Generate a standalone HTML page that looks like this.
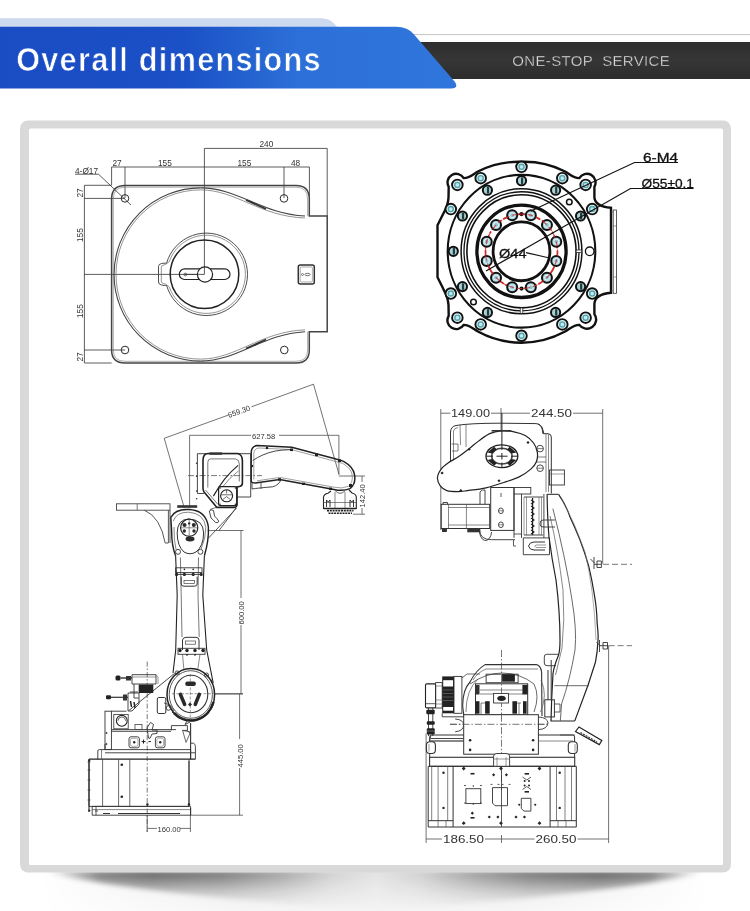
<!DOCTYPE html>
<html><head><meta charset="utf-8"><title>Overall dimensions</title>
<style>
html,body{margin:0;padding:0;background:#fff;}
body{width:750px;height:911px;position:relative;overflow:hidden;font-family:"Liberation Sans",sans-serif;}
svg{position:absolute;left:0;top:0;display:block;will-change:transform;}
</style></head>
<body>
<svg width="750" height="911" viewBox="0 0 750 911">
<defs>
<linearGradient id="gBlue" x1="0" y1="0" x2="1" y2="0" gradientUnits="objectBoundingBox">
<stop offset="0" stop-color="#1a4cc4"/>
<stop offset="0.40" stop-color="#1b50c6"/>
<stop offset="0.52" stop-color="#2260cd"/>
<stop offset="0.65" stop-color="#2d6fd8"/>
<stop offset="1" stop-color="#2f76dc"/>
</linearGradient>
<linearGradient id="gBlueU" x1="-18" y1="0" x2="492" y2="0" gradientUnits="userSpaceOnUse">
<stop offset="0" stop-color="#1a4cc4"/>
<stop offset="0.40" stop-color="#1b50c6"/>
<stop offset="0.52" stop-color="#2260cd"/>
<stop offset="0.65" stop-color="#2d6fd8"/>
<stop offset="1" stop-color="#2f76dc"/>
</linearGradient>
<linearGradient id="gDark" x1="0" y1="0" x2="0" y2="1">
<stop offset="0" stop-color="#2e2e2e"/>
<stop offset="0.5" stop-color="#363636"/>
<stop offset="1" stop-color="#2c2c2c"/>
</linearGradient>
<radialGradient id="gShL" cx="0.5" cy="0.5" r="0.5">
<stop offset="0" stop-color="#000" stop-opacity="0.6"/>
<stop offset="0.6" stop-color="#000" stop-opacity="0.25"/>
<stop offset="1" stop-color="#000" stop-opacity="0"/>
</radialGradient>
<linearGradient id="gShMid" x1="0" y1="0" x2="0" y2="1">
<stop offset="0" stop-color="#000" stop-opacity="0.13"/>
<stop offset="1" stop-color="#000" stop-opacity="0.05"/>
</linearGradient>
<filter id="fBlur" x="-5%" y="-50%" width="110%" height="200%"><feGaussianBlur stdDeviation="2.6"/></filter>
<linearGradient id="gShLH" x1="36" y1="0" x2="375" y2="0" gradientUnits="userSpaceOnUse">
<stop offset="0.03" stop-color="#000" stop-opacity="0"/>
<stop offset="0.08" stop-color="#000" stop-opacity="0.15"/>
<stop offset="0.19" stop-color="#000" stop-opacity="0.52"/>
<stop offset="0.34" stop-color="#000" stop-opacity="0.6"/>
<stop offset="0.54" stop-color="#000" stop-opacity="0.5"/>
<stop offset="0.72" stop-color="#000" stop-opacity="0.3"/>
<stop offset="0.87" stop-color="#000" stop-opacity="0.09"/>
<stop offset="1" stop-color="#000" stop-opacity="0.0"/>
</linearGradient>
<linearGradient id="gShRH" x1="714" y1="0" x2="375" y2="0" gradientUnits="userSpaceOnUse">
<stop offset="0.03" stop-color="#000" stop-opacity="0"/>
<stop offset="0.08" stop-color="#000" stop-opacity="0.15"/>
<stop offset="0.19" stop-color="#000" stop-opacity="0.52"/>
<stop offset="0.34" stop-color="#000" stop-opacity="0.6"/>
<stop offset="0.54" stop-color="#000" stop-opacity="0.5"/>
<stop offset="0.72" stop-color="#000" stop-opacity="0.3"/>
<stop offset="0.87" stop-color="#000" stop-opacity="0.09"/>
<stop offset="1" stop-color="#000" stop-opacity="0.0"/>
</linearGradient>
<linearGradient id="gShH" x1="40" y1="0" x2="710" y2="0" gradientUnits="userSpaceOnUse">
<stop offset="0" stop-color="#fff" stop-opacity="0"/>
<stop offset="0.3" stop-color="#fff" stop-opacity="0.7"/>
<stop offset="0.5" stop-color="#fff" stop-opacity="0.85"/>
<stop offset="0.7" stop-color="#fff" stop-opacity="0.7"/>
<stop offset="1" stop-color="#fff" stop-opacity="0"/>
</linearGradient>
<mask id="mShH" maskUnits="userSpaceOnUse" x="0" y="860" width="750" height="51"><rect x="0" y="860" width="750" height="51" fill="url(#gShH)"/></mask>
<linearGradient id="gShV" x1="0" y1="871" x2="0" y2="906" gradientUnits="userSpaceOnUse">
<stop offset="0" stop-color="#fff" stop-opacity="1"/>
<stop offset="0.25" stop-color="#fff" stop-opacity="0.75"/>
<stop offset="0.6" stop-color="#fff" stop-opacity="0.35"/>
<stop offset="1" stop-color="#fff" stop-opacity="0.08"/>
</linearGradient>
<mask id="mShV" maskUnits="userSpaceOnUse" x="0" y="860" width="750" height="51"><rect x="0" y="860" width="750" height="51" fill="url(#gShV)"/></mask>
</defs>

<!-- HEADER -->
<path d="M0,18.2 H322 Q329,18.5 333.5,23 L337.5,27.2 H0 Z" fill="#ccd9ef"/>
<rect x="410" y="34" width="340" height="1.1" fill="#c8c8c8"/>
<rect x="410" y="42" width="340" height="37" fill="url(#gDark)"/>
<path d="M0,26.8 H396 Q408,26.8 414,34.5 L455,82 Q459,88.5 451,88.5 H0 Z" fill="url(#gBlue)"/>
<text transform="translate(16.2,71) scale(0.9,1)" font-family="Liberation Sans" font-weight="bold" font-size="34" fill="#fff" stroke="url(#gBlueU)" stroke-width="0.7" letter-spacing="1.45">Overall dimensions</text>
<text x="512.3" y="65.6" font-family="Liberation Sans" font-size="15" fill="#e2e2e2" stroke="#333" stroke-width="0.35" textLength="157.5" lengthAdjust="spacing">ONE-STOP&#160; SERVICE</text>

<!-- SHADOW -->
<rect x="40" y="871" width="670" height="40" fill="url(#gShMid)" mask="url(#mShH)"/>
<g filter="url(#fBlur)">
<path d="M40,871 C100,886 200,898 375,910 V871 Z" fill="url(#gShLH)" mask="url(#mShV)"/>
<path d="M710,871 C650,886 550,898 375,910 V871 Z" fill="url(#gShRH)" mask="url(#mShV)"/>
</g>
<!-- CARD -->
<rect x="20" y="120.5" width="711" height="752" rx="8" fill="#d9d9d9"/>
<rect x="29" y="128.5" width="694" height="736.5" rx="1.5" fill="#fff"/>

<!-- DRAWINGS -->
<g id="draw" fill="none" stroke="#2a2a2a" stroke-width="1">
<g id="plate">
<!-- dimension / center lines -->
<g stroke="#333" stroke-width="0.8">
<path d="M111.6,167 H309.4 M111.6,167 V185 M125,167 V198 M204.4,148.4 V274.4 M284,167 V198 M309.4,167 V196"/>
<path d="M204.4,148.4 H327.2 V216"/>
<path d="M84.4,185.3 V363 M84.4,185.3 H111.6 M84.4,198.4 H125 M84.4,274.4 H204.4 M84.4,350 H125 M84.4,363 H111.6"/>
<path d="M75,174.2 H98.5 L131,205"/>
</g>
<!-- plate outline (double) -->
<g stroke="#444" stroke-width="1.5">
<path d="M125,185.5 H296 Q309.3,185.5 309.3,199 V216 H327.2 V331.7 H309.3 V350 Q309.3,363 296,363 H125 Q111.6,363 111.6,350 V199 Q111.6,185.5 125,185.5 Z"/>
</g>
<path d="M125,187.2 H296 Q307.6,187.2 307.6,199 V216" stroke="#777" stroke-width="0.6"/>
<path d="M307.6,331.7 V350 Q307.6,361.3 296,361.3 H125 Q113.3,361.3 113.3,350 V199 Q113.3,187.2 125,187.2" stroke="#777" stroke-width="0.6"/>
<!-- big circle + S-curves -->
<path d="M200.6,187.9 A86.6,86.6 0 0 0 200.6,361.1" stroke="#444" stroke-width="1.1"/>
<path d="M200.6,189.9 A84.6,84.6 0 0 0 200.6,359.1" stroke="#666" stroke-width="0.7"/>
<path d="M200.6,187.9 C238,187.9 262,214 305,216" stroke="#444" stroke-width="1.1"/>
<path d="M200.6,189.9 C236,189.9 260,216.5 305,218" stroke="#666" stroke-width="0.7"/>
<path d="M200.6,361.1 C238,361.1 262,334 305,331.7" stroke="#444" stroke-width="1.1"/>
<path d="M200.6,359.1 C236,359.1 260,331.8 305,329.8" stroke="#666" stroke-width="0.7"/>
<path d="M246,200 L266,209 M246,348.6 L266,339.6" stroke="#333" stroke-width="1.6"/>
<!-- holes -->
<circle cx="125" cy="198.4" r="3.8"/>
<circle cx="284" cy="198.4" r="3.8"/>
<circle cx="125" cy="350" r="3.8"/>
<circle cx="284.3" cy="350" r="3.8"/>
<!-- inner ring -->
<path d="M166.62,263.20 A41.2,41.2 0 1 1 166.62,285.40 Q164,285.6 161.5,285 Q158.5,284.5 158.5,282 V266.5 Q158.5,264 161.5,263.5 Q164,263 166.62,263.20 Z" stroke="#444" stroke-width="0.95"/>
<path d="M169.32,261.60 A39.1,39.1 0 1 1 169.32,287.00 Q165.5,283.5 163,283.3 Q161.3,283 161.3,281 V267.5 Q161.3,265.5 163,265.3 Q165.5,265 169.32,261.60" stroke="#666" stroke-width="0.7"/>
<circle cx="204.5" cy="274.2" r="34.3" stroke="#222" stroke-width="1.5"/>
<rect x="179.3" y="268.9" width="50.7" height="10.6" rx="5.3" stroke="#222" stroke-width="1.2"/>
<circle cx="205" cy="274.5" r="7.6" fill="#fff" stroke="#222" stroke-width="1.2"/>
<circle cx="185.3" cy="274.5" r="1.4" stroke="#333" stroke-width="0.7"/>
<path d="M204.4,266.9 V274.4 H185" stroke="#333" stroke-width="0.8"/>
<!-- connector -->
<rect x="298.3" y="265" width="16" height="19" rx="2" stroke="#333" stroke-width="1.5"/>
<rect x="300.2" y="267" width="12.2" height="15" rx="1" stroke="#777" stroke-width="0.6"/>
<ellipse cx="307.5" cy="274.5" rx="2.6" ry="1.2" stroke="#333" stroke-width="0.7"/>
<circle cx="302.5" cy="274.5" r="1" stroke="#333" stroke-width="0.6"/>
<!-- texts -->
<g fill="#333" stroke="none" font-family="Liberation Sans" font-size="8.3">
<text x="112.5" y="166">27</text>
<text x="158" y="166">155</text>
<text x="237.5" y="166">155</text>
<text x="291" y="166">48</text>
<text x="259.5" y="147">240</text>
<text x="75" y="174">4-&#216;17</text>
<text transform="translate(83.3,197.5) rotate(-90)">27</text>
<text transform="translate(83.3,242) rotate(-90)">155</text>
<text transform="translate(83.3,318) rotate(-90)">155</text>
<text transform="translate(83.3,361.5) rotate(-90)">27</text>
</g>
</g>
<g id="flange">
<path d="M521.50,161.80 A89.5,89.5 0 0 0 478.40,171.30 C473.50,173.80 469.50,178.30 463.70,178.10 A8.6,8.6 0 0 0 448.70,186.80 L448.50,197.80 Q448.00,205.30 443.50,213.30 L437.50,225.30 L437.50,277.30 L443.50,289.30 Q448.00,297.30 448.50,304.80 L448.70,315.80 A8.6,8.6 0 0 0 463.70,324.90 C469.50,324.70 473.50,329.30 478.40,331.80 A90.5,90.5 0 0 0 564.60,331.80 C569.50,329.30 573.50,324.70 579.30,324.90 A8.6,8.6 0 0 0 594.40,314.10 L594.40,303.80 Q595.00,294.30 611.00,292.80 L611.00,207.80 Q595.00,206.30 594.40,197.30 L594.40,186.80 A8.6,8.6 0 0 0 579.30,178.10 C573.50,178.30 569.50,173.80 564.60,171.30 A89.5,89.5 0 0 0 521.50,161.80" stroke="#111" stroke-width="2.4"/>
<rect x="613.2" y="210" width="3.2" height="83.3" stroke="#333" stroke-width="0.8"/>
<path d="M611,212 H613.2 M611,291 H613.2 M613.2,226 H616.4 M613.2,277 H616.4" stroke="#555" stroke-width="0.6"/>
<g transform="translate(521.50,251.30) scale(1,1.035)">
<circle r="73.8" stroke="#111" stroke-width="2.1"/>
<circle r="60.4" stroke="#111" stroke-width="1.5"/>
<circle r="57.5" stroke="#111" stroke-width="1.3"/>
<circle r="54.6" stroke="#111" stroke-width="1.6"/>
<circle r="44.6" stroke="#111" stroke-width="3.3"/>
<circle r="28.4" stroke="#111" stroke-width="2.8"/>
</g>
<rect x="520.20" y="307.91" width="2.6" height="5.5" fill="#fff" stroke="#111" stroke-width="0.7"/>
<rect x="576.10" y="250.00" width="5.5" height="2.6" fill="#fff" stroke="#111" stroke-width="0.7"/>
<circle cx="521.50" cy="166.84" r="5.30" fill="#e4f5f5" stroke="#111" stroke-width="1.9"/>
<circle cx="521.50" cy="166.84" r="2.54" fill="#c4e8ec" stroke="#4fa3ad" stroke-width="1.4"/>
<circle cx="562.30" cy="178.16" r="5.30" fill="#e4f5f5" stroke="#111" stroke-width="1.9"/>
<circle cx="562.30" cy="178.16" r="2.54" fill="#c4e8ec" stroke="#4fa3ad" stroke-width="1.4"/>
<circle cx="480.70" cy="178.16" r="5.30" fill="#e4f5f5" stroke="#111" stroke-width="1.9"/>
<circle cx="480.70" cy="178.16" r="2.54" fill="#c4e8ec" stroke="#4fa3ad" stroke-width="1.4"/>
<circle cx="592.17" cy="209.07" r="5.30" fill="#e4f5f5" stroke="#111" stroke-width="1.9"/>
<circle cx="592.17" cy="209.07" r="2.54" fill="#c4e8ec" stroke="#4fa3ad" stroke-width="1.4"/>
<circle cx="450.83" cy="209.07" r="5.30" fill="#e4f5f5" stroke="#111" stroke-width="1.9"/>
<circle cx="450.83" cy="209.07" r="2.54" fill="#c4e8ec" stroke="#4fa3ad" stroke-width="1.4"/>
<circle cx="592.17" cy="293.53" r="5.30" fill="#e4f5f5" stroke="#111" stroke-width="1.9"/>
<circle cx="592.17" cy="293.53" r="2.54" fill="#c4e8ec" stroke="#4fa3ad" stroke-width="1.4"/>
<circle cx="450.83" cy="293.53" r="5.30" fill="#e4f5f5" stroke="#111" stroke-width="1.9"/>
<circle cx="450.83" cy="293.53" r="2.54" fill="#c4e8ec" stroke="#4fa3ad" stroke-width="1.4"/>
<circle cx="562.30" cy="324.44" r="5.30" fill="#e4f5f5" stroke="#111" stroke-width="1.9"/>
<circle cx="562.30" cy="324.44" r="2.54" fill="#c4e8ec" stroke="#4fa3ad" stroke-width="1.4"/>
<circle cx="480.70" cy="324.44" r="5.30" fill="#e4f5f5" stroke="#111" stroke-width="1.9"/>
<circle cx="480.70" cy="324.44" r="2.54" fill="#c4e8ec" stroke="#4fa3ad" stroke-width="1.4"/>
<circle cx="521.50" cy="335.76" r="5.30" fill="#e4f5f5" stroke="#111" stroke-width="1.9"/>
<circle cx="521.50" cy="335.76" r="2.54" fill="#c4e8ec" stroke="#4fa3ad" stroke-width="1.4"/>
<circle cx="585.63" cy="184.92" r="5.30" fill="#e4f5f5" stroke="#111" stroke-width="1.9"/>
<circle cx="585.63" cy="184.92" r="2.54" fill="#c4e8ec" stroke="#4fa3ad" stroke-width="1.4"/>
<circle cx="457.37" cy="184.92" r="5.30" fill="#e4f5f5" stroke="#111" stroke-width="1.9"/>
<circle cx="457.37" cy="184.92" r="2.54" fill="#c4e8ec" stroke="#4fa3ad" stroke-width="1.4"/>
<circle cx="585.63" cy="317.68" r="5.30" fill="#e4f5f5" stroke="#111" stroke-width="1.9"/>
<circle cx="585.63" cy="317.68" r="2.54" fill="#c4e8ec" stroke="#4fa3ad" stroke-width="1.4"/>
<circle cx="457.37" cy="317.68" r="5.30" fill="#e4f5f5" stroke="#111" stroke-width="1.9"/>
<circle cx="457.37" cy="317.68" r="2.54" fill="#c4e8ec" stroke="#4fa3ad" stroke-width="1.4"/>
<circle cx="521.50" cy="180.71" r="4.60" fill="#a9d2d4" stroke="#111" stroke-width="2"/>
<path d="M522.10,177.49 v6.44" stroke="#223c40" stroke-width="2.2"/>
<circle cx="487.40" cy="190.17" r="4.60" fill="#a9d2d4" stroke="#111" stroke-width="2"/>
<path d="M488.00,186.95 v6.44" stroke="#223c40" stroke-width="2.2"/>
<circle cx="555.60" cy="190.17" r="4.60" fill="#a9d2d4" stroke="#111" stroke-width="2"/>
<path d="M556.20,186.95 v6.44" stroke="#223c40" stroke-width="2.2"/>
<circle cx="462.44" cy="216.01" r="4.60" fill="#a9d2d4" stroke="#111" stroke-width="2"/>
<path d="M463.04,212.79 v6.44" stroke="#223c40" stroke-width="2.2"/>
<circle cx="580.56" cy="216.01" r="4.60" fill="#a9d2d4" stroke="#111" stroke-width="2"/>
<path d="M581.16,212.79 v6.44" stroke="#223c40" stroke-width="2.2"/>
<circle cx="453.30" cy="251.30" r="4.60" fill="#a9d2d4" stroke="#111" stroke-width="2"/>
<path d="M453.90,248.08 v6.44" stroke="#223c40" stroke-width="2.2"/>
<circle cx="462.44" cy="286.59" r="4.60" fill="#a9d2d4" stroke="#111" stroke-width="2"/>
<path d="M463.04,283.37 v6.44" stroke="#223c40" stroke-width="2.2"/>
<circle cx="580.56" cy="286.59" r="4.60" fill="#a9d2d4" stroke="#111" stroke-width="2"/>
<path d="M581.16,283.37 v6.44" stroke="#223c40" stroke-width="2.2"/>
<circle cx="487.40" cy="312.43" r="4.60" fill="#a9d2d4" stroke="#111" stroke-width="2"/>
<path d="M488.00,309.21 v6.44" stroke="#223c40" stroke-width="2.2"/>
<circle cx="555.60" cy="312.43" r="4.60" fill="#a9d2d4" stroke="#111" stroke-width="2"/>
<path d="M556.20,309.21 v6.44" stroke="#223c40" stroke-width="2.2"/>
<circle cx="589.70" cy="251.30" r="4.3" fill="#fff" stroke="#111" stroke-width="1.3"/>
<circle cx="569.3" cy="202" r="2.8" stroke="#111" stroke-width="1.5"/>
<circle cx="473.5" cy="302" r="2.8" stroke="#111" stroke-width="1.5"/>
<g transform="translate(521.50,251.30) scale(1,1.035)"><circle r="36" stroke="#d42a2a" stroke-width="1.7" stroke-dasharray="9 2 2 2"/></g>
<circle cx="556.27" cy="260.94" r="5" fill="#a9d8e2" stroke="#111" stroke-width="2"/>
<circle cx="556.27" cy="260.94" r="2.5" fill="#8cc7d3" stroke="#e8f6f8" stroke-width="1"/>
<circle cx="546.96" cy="277.65" r="5" fill="#a9d8e2" stroke="#111" stroke-width="2"/>
<circle cx="546.96" cy="277.65" r="2.5" fill="#8cc7d3" stroke="#e8f6f8" stroke-width="1"/>
<circle cx="530.82" cy="287.29" r="5" fill="#a9d8e2" stroke="#111" stroke-width="2"/>
<circle cx="530.82" cy="287.29" r="2.5" fill="#8cc7d3" stroke="#e8f6f8" stroke-width="1"/>
<circle cx="512.18" cy="287.29" r="5" fill="#a9d8e2" stroke="#111" stroke-width="2"/>
<circle cx="512.18" cy="287.29" r="2.5" fill="#8cc7d3" stroke="#e8f6f8" stroke-width="1"/>
<circle cx="496.04" cy="277.65" r="5" fill="#a9d8e2" stroke="#111" stroke-width="2"/>
<circle cx="496.04" cy="277.65" r="2.5" fill="#8cc7d3" stroke="#e8f6f8" stroke-width="1"/>
<circle cx="486.73" cy="260.94" r="5" fill="#a9d8e2" stroke="#111" stroke-width="2"/>
<circle cx="486.73" cy="260.94" r="2.5" fill="#8cc7d3" stroke="#e8f6f8" stroke-width="1"/>
<circle cx="486.73" cy="241.66" r="5" fill="#a9d8e2" stroke="#111" stroke-width="2"/>
<circle cx="486.73" cy="241.66" r="2.5" fill="#8cc7d3" stroke="#e8f6f8" stroke-width="1"/>
<circle cx="496.04" cy="224.95" r="5" fill="#a9d8e2" stroke="#111" stroke-width="2"/>
<circle cx="496.04" cy="224.95" r="2.5" fill="#8cc7d3" stroke="#e8f6f8" stroke-width="1"/>
<circle cx="512.18" cy="215.31" r="5" fill="#a9d8e2" stroke="#111" stroke-width="2"/>
<circle cx="512.18" cy="215.31" r="2.5" fill="#8cc7d3" stroke="#e8f6f8" stroke-width="1"/>
<circle cx="530.82" cy="215.31" r="5" fill="#a9d8e2" stroke="#111" stroke-width="2"/>
<circle cx="530.82" cy="215.31" r="2.5" fill="#8cc7d3" stroke="#e8f6f8" stroke-width="1"/>
<circle cx="546.96" cy="224.95" r="5" fill="#a9d8e2" stroke="#111" stroke-width="2"/>
<circle cx="546.96" cy="224.95" r="2.5" fill="#8cc7d3" stroke="#e8f6f8" stroke-width="1"/>
<circle cx="556.27" cy="241.66" r="5" fill="#a9d8e2" stroke="#111" stroke-width="2"/>
<circle cx="556.27" cy="241.66" r="2.5" fill="#8cc7d3" stroke="#e8f6f8" stroke-width="1"/>
<circle cx="521.50" cy="214.04" r="2.1" fill="#111" stroke="none"/>
<circle cx="521.50" cy="288.56" r="2.1" fill="#111" stroke="none"/>
<g transform="translate(521.50,251.30) scale(1,1.035)"><circle r="36" stroke="#d42a2a" stroke-width="1.1" stroke-dasharray="5 3" opacity="0.85"/></g>
<path d="M678,162.5 H634.5 L531,211" stroke="#111" stroke-width="1.2"/>
<path d="M693.5,188.5 H630.5 L486,271" stroke="#111" stroke-width="1.2"/>
<path d="M526,252.6 L549.5,258" stroke="#111" stroke-width="1.1"/>
<g fill="#111" stroke="#111" stroke-width="0.3" font-family="Liberation Sans">
<text x="643" y="162" font-size="13.2" textLength="35" lengthAdjust="spacingAndGlyphs">6-M4</text>
<text x="641.5" y="188" font-size="13.2" textLength="52.5" lengthAdjust="spacingAndGlyphs">&#216;55&#177;0.1</text>
<text x="499" y="257.8" font-size="13.5" textLength="27.5" lengthAdjust="spacingAndGlyphs">&#216;44</text>
</g>
</g>
<g id="robotL" stroke="#333" stroke-width="0.9">
<!-- ===== dimensions ===== -->
<g stroke="#444" stroke-width="0.75">
<path d="M164.2,438.3 L228,415.2 M251.5,406.8 L313.5,384.2"/>
<path d="M164.2,438.3 L184.3,508 M313.5,384.2 L339,474.5"/>
<path d="M189.6,435.3 H251 M279,435.3 H338.9 V474.5 M189.6,435.3 V508"/>
<path d="M338.8,476 H365 M353,514.2 H365 M362,476 V482 M362,508 V514.2"/>
<path d="M207.7,530.5 H243.5 M241,530.5 V598 M241,625 V694 M193,694 H243 M239.6,694 V739 M239.6,768 V815.2 M190,815.2 H243"/>
<path d="M147.2,828.4 H157 M180,828.4 H190.4 M190.4,815 V832 M147.2,815 V832"/>
</g>
<path d="M188,475.6 H262" stroke="#555" stroke-width="0.8" stroke-dasharray="6 2 1.5 2"/>
<path d="M147.2,661.6 V832" stroke="#555" stroke-width="0.8" stroke-dasharray="5 2 1.5 2"/>
<g fill="#333" stroke="none" font-family="Liberation Sans" font-size="7.6">
<text transform="translate(229,418) rotate(-20)">659.30</text>
<text x="252" y="438.5">627.58</text>
<text transform="translate(364.7,507.5) rotate(-90)">142.40</text>
<text transform="translate(243.8,624.5) rotate(-90)">600.00</text>
<text transform="translate(242.5,767.5) rotate(-90)">445.00</text>
<text x="157.5" y="831.5">160.00</text>
</g>

<!-- ===== forearm ===== -->
<path d="M257,445.6 Q251.2,446.5 251.2,453 V481 Q251.2,483 255.4,483 L279.7,479.4 L334,489.4 Q343,491.5 350,488.6 Q356,484 354.6,475 Q353.5,467 343.6,461.4 Q339.6,459.8 336,459 L291.8,447.3 Z" stroke="#222" stroke-width="1.5"/>
<path d="M259,448 Q253.8,448.5 253.8,454 V479.5 M257,480.8 L279.7,477.4 L334,487.2 Q342,489 348.3,486.4 Q353.2,482.5 352.2,475 Q351.2,468.5 342.8,463.4 L291.5,449.6 L259,448" stroke="#777" stroke-width="0.7"/>
<path d="M252.8,460.5 Q262,454 275.3,451 Q282,449.8 291.5,449.6" stroke="#333" stroke-width="0.9"/>
<path d="M252,483 V489 Q258,488 272.7,486.8 Q279,485 281,479.6" stroke="#333" stroke-width="0.9"/>
<path d="M261,482 V489" stroke="#333" stroke-width="0.8"/>
<g fill="#222" stroke="none">
<circle cx="267" cy="448" r="1.3"/><rect x="290" y="448.5" width="3" height="2.6"/><rect x="315" y="453.6" width="3" height="2.6"/><rect x="338" y="459.4" width="3" height="2.6"/>
<rect x="278" y="478.2" width="3" height="2.4"/><rect x="302" y="482.6" width="3" height="2.4"/><rect x="329" y="487.5" width="3" height="2.4"/><rect x="349" y="484" width="3" height="3"/>
<circle cx="252" cy="466" r="1.2"/>
</g>
<!-- wrist -->
<path d="M331,491 L328,493.2 Q324,494 323.5,497 V508.4 H356.3 V497 Q356,494 352,493 L349,490" stroke="#222" stroke-width="1.1"/>
<path d="M335,490.5 Q340,496 345,490.8" stroke="#444" stroke-width="0.8"/>
<path d="M323.5,502.5 H356.3 M335,492 V508.4 M345,492 V508.4" stroke="#555" stroke-width="0.7"/><path d="M326.5,500 V507 M326.5,500 L328.3,502 L330,500 V507 M350,500 V507 M350,500 L351.8,502 L353.5,500 V507" stroke="#222" stroke-width="0.9"/>
<path d="M323.5,508.6 H356.3" stroke="#222" stroke-width="1.3"/>
<path d="M327,510.6 H353.5 M328.5,513.3 H352" stroke="#222" stroke-width="1.6" stroke-dasharray="2 0.8"/>

<!-- ===== elbow ===== -->
<path d="M203.9,493.5 H197.4 V453.7 H250.7 V497 H236.8" stroke="#333" stroke-width="0.9"/>
<g fill="#333" stroke="none"><circle cx="196.6" cy="463.2" r="0.8"/><circle cx="196.6" cy="476.2" r="0.8"/><circle cx="196.6" cy="491" r="0.8"/><circle cx="196.6" cy="498.7" r="0.8"/></g>
<path d="M208.2,453.5 H237.7 Q242.4,454.5 242.4,461 V483 Q242.4,486 239.5,486.5 L237,487 V505 Q236.8,507.4 234,507.4 H216.9 L203.9,491.8 Q203,490.5 203,488 V460 Q203.2,453.5 208.2,453.5 Z" stroke="#222" stroke-width="1.6"/>
<path d="M210.5,458.9 H235.5 Q239.3,459.5 239.3,464 V481.5 M207.8,487.5 V462.5 Q207.8,458.9 210.5,458.9 M205.5,490 L218,504.5" stroke="#555" stroke-width="0.8"/>
<path d="M238.1,465.4 Q224,477 213.4,496.1" stroke="#222" stroke-width="1.2"/>
<path d="M238.5,471 Q229,478 222.9,486.6" stroke="#555" stroke-width="0.7"/>
<rect x="209.5" y="452.4" width="12.5" height="2.4" fill="#333" stroke="none"/>
<rect x="218.6" y="486.6" width="18.2" height="19.1" rx="1.8" stroke="#222" stroke-width="1.2"/>
<g fill="#222" stroke="none"><circle cx="220" cy="488" r="0.8"/><circle cx="235.4" cy="488" r="0.8"/><circle cx="220" cy="504.3" r="0.8"/><circle cx="235.4" cy="504.3" r="0.8"/></g>
<circle cx="226.6" cy="495.8" r="6" stroke="#222" stroke-width="1.1"/>
<path d="M221,494.8 H232.2 M226.6,490 V493.5 M222.8,499.5 L226.6,496.6 L230.3,499.5" stroke="#333" stroke-width="0.7"/>
<path d="M209.3,511 Q211,509 213.5,510.5 L214.5,516 Q217.5,519 218.7,521 Q218.5,523.5 215.5,522.5 Q213,519.5 211,518 Z" stroke="#333" stroke-width="0.9"/>
<path d="M236,508 L218.7,531 M208.4,538.2 L236.5,508.1" stroke="#444" stroke-width="0.9"/>
<path d="M216,507.5 L210,509.5" stroke="#444" stroke-width="0.8"/>

<!-- ===== shelf & bracket ===== -->
<rect x="116.5" y="503.8" width="53.5" height="6.4" stroke="#444" stroke-width="0.9"/>
<path d="M137.2,503.8 V510.2" stroke="#555" stroke-width="0.8"/>
<path d="M144.4,510.2 Q160.5,517 165.2,543 H168.4 V510.2 M170,510.2 V543" stroke="#444" stroke-width="0.9"/>

<!-- ===== shoulder ===== -->
<path d="M177.2,506.5 H197.2" stroke="#333" stroke-width="2.6"/>
<path d="M175.6,555.8 Q171.6,546 171.6,530 L170.8,517.4 Q175,509 188.4,509.5 Q206,510 208.4,527 Q209,540 204.4,555.8" stroke="#222" stroke-width="1.4"/>
<path d="M173.3,521 Q176.5,512 188.4,512.2 Q204,513 205.8,527.5 Q206,538 201,549 M176,549.5 Q173.8,540 174,527" stroke="#555" stroke-width="0.7"/>
<path d="M188.4,519 Q203.6,519.5 203.6,533 Q203.6,546 196,552 Q190,555.5 184,552 Q177.2,546 177.2,533 Q177.2,519.5 188.4,519 Z" stroke="#333" stroke-width="1"/>
<circle cx="189.2" cy="527.8" r="8.6" fill="#fff" stroke="#222" stroke-width="1.2"/>
<g fill="#2a2a2a" stroke="none">
<circle cx="184.5" cy="525" r="2"/><circle cx="193.8" cy="525" r="2"/><circle cx="184.3" cy="531" r="1.7"/><circle cx="194" cy="531" r="1.7"/><circle cx="189.2" cy="523.4" r="1.2"/>
<ellipse cx="190" cy="539" rx="4.5" ry="2.4"/>
</g>
<path d="M189.2,519 V536 M181,527.8 H197.5" stroke="#444" stroke-width="0.6"/>
<circle cx="178" cy="551.8" r="2.5" stroke="#333" stroke-width="0.9"/>
<circle cx="200.4" cy="551.8" r="2.5" stroke="#333" stroke-width="0.9"/>

<!-- ===== upper arm ===== -->
<path d="M175.6,555.8 L177.2,595 L175.7,650 L173,673 M204.4,555.8 L202.8,595 L206.7,650 L213.2,683" stroke="#222" stroke-width="1.1"/>
<path d="M180.4,557.4 L181.2,595 L182,637 M198.5,557.4 L198,595 L199.2,637" stroke="#555" stroke-width="0.8"/>
<rect x="175.6" y="567.8" width="26.4" height="4.8" stroke="#333" stroke-width="0.9"/>
<g fill="#222" stroke="none">
<circle cx="176.6" cy="574.4" r="1.6"/><circle cx="184.4" cy="574.4" r="1.6"/><circle cx="193.2" cy="574.4" r="1.6"/><circle cx="201.2" cy="574.4" r="1.6"/>
<circle cx="184.4" cy="569.4" r="0.8"/><circle cx="193.2" cy="569.4" r="0.8"/>
</g>
<path d="M176.5,574.4 H201.5" stroke="#333" stroke-width="0.9"/>
<path d="M181.2,576.6 V584 Q181.2,586.2 184,586.2 H194.4 Q197.2,586.2 197.2,584 V576.6" stroke="#333" stroke-width="1"/>
<rect x="184" y="580.5" width="10.5" height="3" stroke="#444" stroke-width="0.7"/>
<!-- lower clamp -->
<path d="M182.5,650 V640 Q183,637.5 186,637.3 H196 Q199,637.5 199,640 V650" stroke="#333" stroke-width="1"/>
<rect x="185.5" y="641" width="10" height="3.2" stroke="#444" stroke-width="0.7"/>
<rect x="178" y="648.3" width="27" height="6" stroke="#333" stroke-width="0.9"/>
<g fill="#222" stroke="none">
<circle cx="180" cy="650.5" r="1.7"/><circle cx="187" cy="650.5" r="1.7"/><circle cx="195" cy="650.5" r="1.7"/><circle cx="203" cy="650.5" r="1.7"/>
<circle cx="187" cy="654.8" r="0.9"/><circle cx="195" cy="654.8" r="0.9"/>
</g>
<path d="M182.5,654.3 L184,671 M200,654.3 L197.5,671" stroke="#555" stroke-width="0.7"/>

<!-- ===== lower joint ===== -->
<ellipse cx="190.8" cy="694.5" rx="23.8" ry="26" fill="#fff" stroke="#222" stroke-width="1.5"/>
<path d="M174,713 A23.8,26 0 0 0 213.5,702" stroke="#222" stroke-width="2.6"/>
<ellipse cx="190.8" cy="694.5" rx="21.6" ry="23.8" stroke="#444" stroke-width="0.9"/>
<ellipse cx="191" cy="694" rx="16.8" ry="18.7" stroke="#333" stroke-width="1.1"/>
<circle cx="177.2" cy="672.9" r="2" stroke="#333" stroke-width="0.9"/>
<circle cx="206.5" cy="675" r="2" stroke="#333" stroke-width="0.9"/>
<path d="M190.3,674 V718 M172,693.7 H214" stroke="#555" stroke-width="0.6" stroke-dasharray="3 1.5"/>
<path d="M214,693.7 H243" stroke="#444" stroke-width="0.75"/>
<g fill="#2a2a2a" stroke="none">
<rect x="185.2" y="681.5" width="10.7" height="4.4" rx="2.2"/>
<path d="M180.4,694.4 L184.6,704.4" stroke="#2a2a2a" stroke-width="3.6" stroke-linecap="round"/>
<path d="M199.3,694.4 L195.3,704.4" stroke="#2a2a2a" stroke-width="3.6" stroke-linecap="round"/>
<path d="M190,702.4 l2,2 l-2,2 l-2,-2 z"/>
</g>
<path d="M172,712 Q180,720 190.4,719.5 M188,719 L185,724.5 L190,722" stroke="#333" stroke-width="0.9"/>
<rect x="157.3" y="697.5" width="8.5" height="16" rx="1.5" stroke="#333" stroke-width="1"/>
<circle cx="168.5" cy="708" r="2.3" stroke="#333" stroke-width="0.9"/>
<path d="M164,703 L170,705 L174,711" stroke="#333" stroke-width="0.8"/>

<!-- ===== motors ===== -->
<path d="M128.7,710.7 L174.7,673.3" stroke="#333" stroke-width="0.9"/>
<path d="M132,674.7 H156 V684 H132 Z" stroke="#333" stroke-width="0.9"/>
<path d="M132,677 H156 M156,674.7 L158,677 V684" stroke="#555" stroke-width="0.6"/>
<rect x="138.7" y="684.5" width="14.6" height="8.5" fill="#222" stroke="none"/>
<path d="M134,684 V698 H138.7 M130,692 H138" stroke="#333" stroke-width="0.9"/>
<rect x="115.5" y="675.5" width="5" height="5" rx="1.5" fill="#222" stroke="none"/>
<path d="M120.5,678 H132" stroke="#333" stroke-width="1.4"/>
<rect x="126" y="676" width="5" height="4.5" fill="#333" stroke="none"/>
<rect x="106" y="695.3" width="5" height="4" rx="1" fill="#222" stroke="none"/>
<path d="M111,697.3 H128" stroke="#333" stroke-width="1.2"/>
<rect x="123" y="694.5" width="4" height="6" fill="#333" stroke="none"/>
<path d="M128,693 H139 V704 L132,711 H128 Z" stroke="#333" stroke-width="0.9"/>
<path d="M130.5,701 L131.5,707 M134,702 L135,708" stroke="#222" stroke-width="1.5"/>

<!-- ===== base mid section ===== -->
<rect x="105" y="711.2" width="6.4" height="38.4" stroke="#333" stroke-width="0.9"/>
<circle cx="106.5" cy="733" r="0.6" fill="#333"/><circle cx="106.5" cy="744" r="0.6" fill="#333"/>
<path d="M111.4,711.2 H126.5" stroke="#333" stroke-width="0.9"/>
<rect x="113.8" y="714.4" width="14.4" height="14.4" stroke="#333" stroke-width="0.8"/>
<circle cx="121.8" cy="720.8" r="5.4" fill="#fff" stroke="#222" stroke-width="1.1"/>
<path d="M118,720.8 A3.8,3.8 0 0 1 125.6,720.8" stroke="#444" stroke-width="0.8"/>
<path d="M111.4,729.6 H176 M111.4,731.3 H171" stroke="#333" stroke-width="0.9"/>
<path d="M171.4,730.4 V725.6 H187.4 V730.4 H182.6 M187.4,730.4 L190.6,734" stroke="#333" stroke-width="0.9"/>
<path d="M182.6,730.4 L186,742.4 L190.6,732 Z" stroke="#444" stroke-width="0.8"/>
<path d="M190.6,723 V759" stroke="#333" stroke-width="1.1"/>
<rect x="135" y="724.5" width="7" height="5" stroke="#444" stroke-width="0.8"/>
<path d="M148.5,738 L147,728 L150.5,722.4 L153.5,724.5 L152,730 H157 V733.5 L152,734 L150,738.4 Z" stroke="#333" stroke-width="0.9"/>
<rect x="129" y="736.8" width="10.4" height="11" rx="2" stroke="#333" stroke-width="0.9"/>
<rect x="130.5" y="738.3" width="7.4" height="8" rx="1.5" stroke="#666" stroke-width="0.5"/>
<circle cx="134.2" cy="742.3" r="1.2" fill="#222" stroke="none"/>
<rect x="155.4" y="736.8" width="9.6" height="11" rx="2" stroke="#333" stroke-width="0.9"/>
<rect x="156.9" y="738.3" width="6.6" height="8" rx="1.5" stroke="#666" stroke-width="0.5"/>
<circle cx="160.2" cy="742.3" r="1.2" fill="#222" stroke="none"/>
<path d="M141.5,741.6 H145.5 M143.5,739.6 V743.6 M148.5,741.6 H151" stroke="#222" stroke-width="1"/>

<!-- ===== base ===== -->
<path d="M97.8,759.2 V751 Q97.8,749.6 99.5,749.6 H105 V744 M105,749.6 H190.6 V759.2" stroke="#333" stroke-width="0.9"/>
<path d="M105,752.8 H195.4 M190.6,743.2 H193.5 Q195.4,744 195.4,746.5 V759.2" stroke="#333" stroke-width="0.9"/>
<path d="M89,759.2 H195.4" stroke="#222" stroke-width="1.3"/>
<path d="M101.5,749.6 V759.2" stroke="#555" stroke-width="0.7"/>
<path d="M89,759.2 V806.4 H189 V759.2 M189,761 V806" stroke="#333" stroke-width="0.9"/>
<path d="M102.6,759.2 V806.4 M118.6,759.2 V806.4 M129.8,759.2 V806.4" stroke="#444" stroke-width="0.8"/>
<path d="M89,759.2 V812" stroke="#222" stroke-width="1.1"/><path d="M87.5,762 H90.5 M87.5,770 H90.5 M87.5,780 H90.5 M87.5,790 H90.5 M87.5,800 H90.5" stroke="#333" stroke-width="0.7"/>
<circle cx="121.8" cy="764.8" r="1.3" fill="#222" stroke="none"/>
<circle cx="121.8" cy="796.8" r="1.3" fill="#222" stroke="none"/>
<circle cx="147.4" cy="804.5" r="1.2" fill="#222" stroke="none"/>
<circle cx="189" cy="804.5" r="1.2" fill="#222" stroke="none"/>
<circle cx="89.3" cy="760.5" r="1.1" fill="#222" stroke="none"/>
<circle cx="89.3" cy="810.5" r="1.1" fill="#222" stroke="none"/>
<path d="M92.2,806.4 H190.6 V815.2 H92.2 Z" stroke="#333" stroke-width="0.9"/>
<path d="M92.2,809.6 H190.6" stroke="#555" stroke-width="0.7"/>
<path d="M96,806.4 V815.2 M95,811 H98" stroke="#333" stroke-width="0.8"/>
<path d="M103,813.5 H110 M118,813.5 H180" stroke="#333" stroke-width="1.1"/>
<path d="M190.6,808 V815.2" stroke="#333" stroke-width="1"/>
</g>
<g id="robotR" stroke="#333" stroke-width="0.9">
<!-- ===== dimensions ===== -->
<g stroke="#444" stroke-width="0.75">
<path d="M440.8,413.2 H450.5 M491,413.2 H530 M573,413.2 H602.7 M440.8,409 V530 M602.7,409 V563.7 M501,408 V457"/>
<path d="M426.1,839 H442 M485,839 H534.5 M577.5,839 H608.6 M426.1,733.5 V843 M608.6,645.5 V843 M501.5,835 V843"/>
</g>
<path d="M603,564.3 H632 M608.6,645.7 H632" stroke="#555" stroke-width="0.8" stroke-dasharray="6 3"/>
<path d="M501.5,650 V790 M449.9,724.3 H548" stroke="#555" stroke-width="0.8" stroke-dasharray="7 2 1.5 2"/>
<g fill="#333" stroke="none" font-family="Liberation Sans" font-size="10.6">
<text x="451" y="417.2" textLength="39" lengthAdjust="spacingAndGlyphs">149.00</text>
<text x="531" y="417.2" textLength="41" lengthAdjust="spacingAndGlyphs">244.50</text>
<text x="443" y="843.3" textLength="41" lengthAdjust="spacingAndGlyphs">186.50</text>
<text x="535.5" y="843.3" textLength="41" lengthAdjust="spacingAndGlyphs">260.50</text>
</g>

<!-- ===== top housing ===== -->
<path d="M450.5,461.7 V432 Q450.8,426.5 456,425.5 Q470,423.2 500,423.2 L536,423.6 Q542,424 543.2,431 L543.9,433.7" stroke="#333" stroke-width="1"/>
<path d="M453.5,460 V431 Q454,428 458,427.6 M460,424.5 L460.5,445 M466,424 V447" stroke="#555" stroke-width="0.7"/>
<path d="M538,424 Q542.5,425.5 542.8,433.5 L543.9,433.7 H548 Q551.3,434 551.3,437 V493.4" stroke="#333" stroke-width="1"/>
<path d="M546,434 V492 M548.5,434 V492" stroke="#555" stroke-width="0.7"/>
<path d="M451.5,444 H458 V451 H452" stroke="#444" stroke-width="0.7"/>
<circle cx="540.1" cy="448.6" r="3.3" stroke="#333" stroke-width="0.9"/>
<circle cx="540.1" cy="468.2" r="3.3" stroke="#333" stroke-width="0.9"/>
<path d="M536.8,448.6 H543.4 M536.8,468.2 H543.4 M534,457 H546 M534,462 H546" stroke="#444" stroke-width="0.7"/>
<rect x="549.5" y="470" width="14.9" height="15" stroke="#333" stroke-width="0.9"/>
<path d="M549.5,474 H564.4" stroke="#555" stroke-width="0.6"/>
<!-- teardrop -->
<path d="M437.47,477.54 C437.62,474.73 439.33,471.62 441.20,469.13 C443.07,466.65 445.87,464.62 448.67,462.60 C451.47,460.58 454.58,459.33 458.00,457.00 C461.42,454.67 465.78,451.25 469.20,448.60 C472.62,445.96 475.11,443.62 478.53,441.13 C481.96,438.65 486.00,435.38 489.73,433.67 C493.47,431.96 496.89,431.18 500.94,430.87 C504.98,430.56 509.96,431.02 514.00,431.80 C518.05,432.58 521.94,433.67 525.20,435.53 C528.47,437.40 531.58,440.20 533.60,443.00 C535.63,445.80 536.87,449.22 537.34,452.33 C537.80,455.45 537.49,458.87 536.40,461.67 C535.31,464.47 533.60,466.65 530.80,469.13 C528.00,471.62 523.96,474.42 519.60,476.60 C515.25,478.78 510.27,480.34 504.67,482.20 C499.07,484.07 492.22,486.40 486.00,487.80 C479.78,489.20 472.00,489.98 467.33,490.60 C462.67,491.22 461.42,491.54 458.00,491.54 C454.58,491.54 449.76,491.54 446.80,490.60 C443.84,489.67 441.82,488.11 440.27,485.94 C438.71,483.76 437.31,480.34 437.47,477.54 Z" fill="#fff" stroke="#222" stroke-width="1.2"/>
<ellipse cx="501.9" cy="456.2" rx="15.9" ry="11.4" stroke="#222" stroke-width="1.3"/>
<ellipse cx="501.9" cy="456.2" rx="10.2" ry="7.9" stroke="#444" stroke-width="1.5"/>
<g fill="#222" stroke="none"><path d="M516.37,459.96 L509.60,465.73 L507.10,463.21 L511.67,458.97 Z"/><path d="M494.20,465.73 L487.43,459.96 L492.13,458.97 L496.70,463.21 Z"/><path d="M487.43,452.44 L494.20,446.67 L496.70,449.19 L492.13,453.43 Z"/><path d="M509.60,446.67 L516.37,452.44 L511.67,453.43 L507.10,449.19 Z"/></g>
<path d="M486,456.2 H493 M496.5,456.2 H507.5 M511,456.2 H518 M501.9,413 V450 M501.9,453 V459.5 M501.9,462.5 V468" stroke="#222" stroke-width="1"/>
<g fill="#222" stroke="none">
<path d="M469.2,447.7 l1.6,1.5 l-1.6,1.5 l-1.6,-1.5z"/>
<path d="M442.1,471.4 l1.6,1.5 l-1.6,1.5 l-1.6,-1.5z"/>
<path d="M460.8,489 l1.6,1.5 l-1.6,1.5 l-1.6,-1.5z"/>
<path d="M499,479.2 l1.6,1.5 l-1.6,1.5 l-1.6,-1.5z"/>
<path d="M528,441 l1.6,1.5 l-1.6,1.5 l-1.6,-1.5z"/>
</g>
<rect x="491.6" y="430" width="19.6" height="1.6" fill="#333" stroke="none"/>

<!-- ===== middle: motor, block, column ===== -->
<rect x="441.2" y="504.3" width="48.5" height="24.2" stroke="#333" stroke-width="1"/>
<path d="M448.5,504.3 V528.5 M466.4,504.3 V528.5 M448.5,507.5 H489.7 M448.5,525 H489.7" stroke="#555" stroke-width="0.7"/>
<path d="M443,504.5 V502.5 H447.5 V504.3 M443,528.5 V531.5 H446.5 V528.5" stroke="#333" stroke-width="0.9"/>
<rect x="442" y="529" width="4.5" height="3" fill="#333" stroke="none"/>
<rect x="467.3" y="528.5" width="13" height="3.8" fill="#333" stroke="none"/>
<path d="M479.5,529 A6.1,10 0 0 0 491.6,532 M479.5,530 Q480,539.7 491.6,539.7 H515" stroke="#333" stroke-width="0.9"/>
<path d="M480,492 V504 M485,490 V504 M480,492 Q482,489 485,490" stroke="#333" stroke-width="0.9"/>
<rect x="490.7" y="487.5" width="23.3" height="42.9" fill="#fff" stroke="#333" stroke-width="1"/>
<path d="M501,493 V497" stroke="#333" stroke-width="0.8"/>
<ellipse cx="500.9" cy="510.8" rx="2.4" ry="2.8" stroke="#333" stroke-width="0.9"/>
<ellipse cx="500.9" cy="524.8" rx="2.4" ry="2.8" stroke="#333" stroke-width="0.9"/>
<path d="M498.5,510.8 H503.3 M498.5,524.8 H503.3" stroke="#333" stroke-width="0.6"/>
<rect x="514" y="487.5" width="16.8" height="6.5" stroke="#333" stroke-width="0.9"/>
<path d="M514,494 V537.9 M521.5,494 V537.9 M543.9,494 V537.9 M524,497 H543 M524,535 H543" stroke="#333" stroke-width="0.9"/>
<path d="M524,497 V535 M526.5,497 V535 M539,497 V535 M541.5,497 V535" stroke="#555" stroke-width="0.6"/>
<path d="M532.6,498 V535" stroke="#222" stroke-width="1.2"/>
<path d="M531,500 l3,2 l-3,2 M531,506 l3,2 l-3,2 M531,512 l3,2 l-3,2 M531,518 l3,2 l-3,2 M531,524 l3,2 l-3,2 M531,530 l3,2 l-3,2" stroke="#222" stroke-width="1.1"/>
<path d="M514,534 H521.5 M513.5,540 V546 H516" stroke="#333" stroke-width="0.8"/>
<path d="M523.3,537.9 H549.5 V554.7 H523.3 Z" stroke="#333" stroke-width="0.9"/>
<path d="M545,542 H534 Q529.5,542 528.5,546 Q529.5,550 534,550 H545" stroke="#333" stroke-width="1"/>
<path d="M546,545 H536 Q533.5,546 536,547.5 H546" stroke="#555" stroke-width="0.6"/>

<!-- ===== curved arm ===== -->
<path d="M547.1,494.3 Q547.5,520 549,537 Q552,560 556,580 Q560,612 560,640 Q560,650 558.6,655 Q554,666 553,673.5 L551.7,698.5 L551,721 H574.8 M558.6,494.3 Q566,505 570,517 Q576,530 580,540 Q585,553 588.6,565.7 Q592,580 594.3,594.3 Q597,610 597.1,622.9 Q598.5,635 598,640 Q597.5,652 595.5,662 L588,685.3 L574.8,720.9" stroke="#222" stroke-width="1.2"/>
<path d="M547.1,494.3 H558.6" stroke="#222" stroke-width="1"/>
<path d="M552.9,508.6 Q566,560 572,600 Q577,630 575,650 Q570,680 561.6,703.8 L560.3,720.9" stroke="#444" stroke-width="0.8"/>
<path d="M550,516 Q558,550 563,590 Q565,620 562,648 Q558,665 555.5,675" stroke="#555" stroke-width="0.7"/>
<path d="M561,497 Q576,525 585,552 Q594,590 596,640" stroke="#777" stroke-width="0.6"/>
<path d="M554.3,685.7 H588.6" stroke="#444" stroke-width="0.8"/>
<path d="M555,520 H543 Q540,520 540,524 Q540,527 543,527 H555" stroke="#333" stroke-width="0.9"/>
<!-- bolts on right -->
<path d="M594.3,562.9 L590.5,559 M594,557 V569 M594,564.3 H601.4 M597,561 H601.4 V567.5 H597 Z" stroke="#333" stroke-width="0.9"/>
<path d="M600,645.7 L596.5,642 M599.5,640 V652 M599.5,645.7 H608 M603,642.5 H607.5 V649 H603 Z" stroke="#333" stroke-width="0.9"/>
<!-- small bracket on left of arm -->
<path d="M558.6,654.3 H546.5 Q544.3,654.3 544.3,657 V663 Q544.3,665.7 547,665.7 H556" stroke="#333" stroke-width="0.9"/>

<!-- ===== lower: dome & motors ===== -->
<path d="M463.7,714.7 L462.7,706.2 Q462.5,690 470,682 Q476,670 485.1,664.6 H536.3 Q540.5,665 541.6,672 L542,716" stroke="#333" stroke-width="1.1"/>
<path d="M473,680 Q478,672 486,669 H538" stroke="#555" stroke-width="0.7"/>
<path d="M466,712 Q466,690 478,679 M541,680 Q548,695 540.5,712" stroke="#555" stroke-width="0.7"/>
<path d="M470,684 Q486,673 502,673 Q520,673 534,684 Q540,696 534,712" stroke="#444" stroke-width="0.8"/>
<rect x="486.1" y="674.2" width="32" height="8.5" stroke="#333" stroke-width="0.9"/>
<rect x="502.1" y="674.2" width="12.8" height="7.5" fill="#222" stroke="none"/>
<rect x="475.5" y="683.8" width="52.2" height="30.9" stroke="#333" stroke-width="1"/>
<rect x="522.4" y="684.9" width="5.3" height="9.6" fill="#222" stroke="none"/>
<rect x="475.5" y="684.9" width="4" height="9.6" fill="#333" stroke="none"/>
<path d="M480,690 H523 M480,694 H523" stroke="#555" stroke-width="0.7"/>
<rect x="493.6" y="693.4" width="14.9" height="9.6" fill="#fff" stroke="#333" stroke-width="0.9"/>
<ellipse cx="501.5" cy="698.3" rx="4.2" ry="2.6" fill="#222" stroke="none"/>
<g fill="#222" stroke="none">
<rect x="475.3" y="701.2" width="4.2" height="12.5"/><rect x="485.1" y="701.2" width="4.6" height="12.5"/><rect x="512.4" y="701.2" width="4.6" height="12.5"/><rect x="523" y="701.2" width="3.6" height="12.5"/>
</g>
<path d="M481,703 H485 M517,703 H521 M481,703 V714 M519,703 V714" stroke="#444" stroke-width="0.7"/>
<!-- left motor -->
<rect x="425.5" y="683.9" width="10.1" height="24" rx="1.2" stroke="#222" stroke-width="1.1"/>
<path d="M425.5,703.7 H435.6" stroke="#333" stroke-width="0.8"/>
<rect x="435.6" y="682.6" width="6.6" height="25.4" stroke="#333" stroke-width="0.9"/>
<path d="M435.6,686 H442.2 M435.6,700 H442.2 M435.6,704 H442.2" stroke="#555" stroke-width="0.6"/>
<rect x="442.2" y="676.4" width="11.8" height="36.9" fill="#222" stroke="none"/>
<rect x="443.2" y="680.2" width="9.8" height="6.3" fill="#fff" stroke="none"/>
<rect x="443.2" y="707" width="9.8" height="3.7" fill="#fff" stroke="none"/>
<path d="M443,690 H453 M443,693.5 H453 M443,697 H453 M443,700.5 H453" stroke="#777" stroke-width="0.6"/>
<rect x="454" y="676.4" width="7.9" height="36.9" stroke="#333" stroke-width="0.9"/>
<path d="M442.2,713.3 V716.8 H463.7 V713.3" stroke="#333" stroke-width="0.9"/>
<path d="M461.9,678 L467,674 H480" stroke="#444" stroke-width="0.8"/>
<path d="M428.5,708 V736 M432.8,708 V736" stroke="#333" stroke-width="0.9"/>
<rect x="426.3" y="709.8" width="8.4" height="4.4" rx="1" fill="#222" stroke="none"/>
<rect x="426.8" y="721.2" width="7.9" height="3.6" rx="1" fill="#222" stroke="none"/>
<rect x="426.8" y="728.3" width="7.9" height="6.1" rx="1" fill="#222" stroke="none"/>
<path d="M427,731 H434.5" stroke="#999" stroke-width="0.6"/>
<path d="M431,735 L429.5,741 H470 M431,738.5 H470" stroke="#333" stroke-width="0.9"/>
<path d="M455.2,719 Q463.5,719.5 463.7,725 Q463.5,731 455.2,731.8" stroke="#333" stroke-width="0.9"/>
<path d="M538.4,717 Q547.5,717.5 548,723 Q547.5,729 538.4,729.7" stroke="#333" stroke-width="0.9"/>
<!-- right small column near arm -->
<path d="M548,670 V700 M551.2,660 V700" stroke="#333" stroke-width="1"/>
<rect x="544.8" y="699.8" width="9.6" height="17.1" stroke="#333" stroke-width="1"/>
<path d="M554.4,704 H560 V712 H554.4" stroke="#333" stroke-width="0.8"/>


<!-- J1 block -->
<rect x="463.7" y="714.7" width="74.7" height="39.5" fill="#fff" stroke="#333" stroke-width="1"/>
<path d="M449.9,724.3 H548" stroke="#555" stroke-width="0.8" stroke-dasharray="7 2 1.5 2"/>
<path d="M501.5,714.7 V754" stroke="#555" stroke-width="0.8" stroke-dasharray="7 2 1.5 2"/>
<g fill="#222" stroke="none">
<circle cx="470.1" cy="740.3" r="1.3"/><circle cx="470.1" cy="749.9" r="1.3"/><circle cx="533.1" cy="740.3" r="1.3"/><circle cx="533.1" cy="749.9" r="1.3"/>
</g>
<!-- lever right -->
<path d="M575.5,731.5 L579,727 L601.8,740.5 L599.3,744.6 Z" stroke="#222" stroke-width="1.2"/>
<path d="M580.5,732.5 L597,742" stroke="#333" stroke-width="1.1" stroke-dasharray="2 1"/>
<path d="M575,735 H560" stroke="#444" stroke-width="0.8"/>

<!-- ===== base ===== -->
<path d="M429.7,757.3 V736.5 Q429.7,735 431.5,735 H463.7 M538.4,735 H572.5 Q574.6,735 574.6,737 V757.3" stroke="#333" stroke-width="1"/>
<path d="M431,741 H463.7 M538.4,741 H573" stroke="#555" stroke-width="0.7"/>
<rect x="426.4" y="741.7" width="9" height="11.8" rx="3.5" fill="#fff" stroke="#333" stroke-width="1.1"/>
<rect x="568.3" y="741.7" width="9" height="11.8" rx="3.5" fill="#fff" stroke="#333" stroke-width="1.1"/>
<path d="M429,744 V751.5 M575,744 V751.5" stroke="#555" stroke-width="0.6"/>
<rect x="429.6" y="757.3" width="145.1" height="9" stroke="#333" stroke-width="1.1"/>
<path d="M493.6,766.3 V756 Q494,753.5 497,753.5 H506 Q509.6,753.5 509.6,756 V766.3" fill="#fff" stroke="#333" stroke-width="0.9"/>
<path d="M497,757.3 V766.3 M506,757.3 V766.3 M493.6,759 H509.6" stroke="#555" stroke-width="0.6"/>
<path d="M428.2,766.3 H576.3 V827 H428.2 Z" stroke="#333" stroke-width="1"/>
<path d="M453.1,766.3 V827 M550.1,766.3 V827" stroke="#333" stroke-width="1"/>
<path d="M431.7,766.3 V821 M438.1,766.3 V821 M447.7,766.3 V821 M556.5,766.3 V821 M565,766.3 V821 M571.5,766.3 V821" stroke="#555" stroke-width="0.75"/>
<path d="M428.2,820.7 H453.1 M550.1,820.7 H576.3" stroke="#333" stroke-width="1"/>
<path d="M438.1,820.7 V827 M446,820.7 V827 M558,820.7 V827 M566,820.7 V827" stroke="#555" stroke-width="0.7"/>
<g fill="#222" stroke="none">
<circle cx="443.5" cy="772.7" r="1.2"/><circle cx="443.5" cy="807.9" r="1.2"/><circle cx="559.7" cy="772.7" r="1.2"/><circle cx="559.7" cy="807.9" r="1.2"/>
<path d="M463.7,766.6 l1.9,1.9 l-1.9,1.9 l-1.9,-1.9z"/><path d="M501,766.6 l1.9,1.9 l-1.9,1.9 l-1.9,-1.9z"/><path d="M539.5,766.6 l1.9,1.9 l-1.9,1.9 l-1.9,-1.9z"/>
<path d="M463.7,821.3 l1.9,1.9 l-1.9,1.9 l-1.9,-1.9z"/><path d="M501,821.3 l1.9,1.9 l-1.9,1.9 l-1.9,-1.9z"/><path d="M539.5,821.3 l1.9,1.9 l-1.9,1.9 l-1.9,-1.9z"/>
<path d="M493.6,773.2 l1.6,1.6 l-1.6,1.6 l-1.6,-1.6z"/><path d="M506.4,773.2 l1.6,1.6 l-1.6,1.6 l-1.6,-1.6z"/>
<path d="M489.3,815.4 l1.6,1.6 l-1.6,1.6 l-1.6,-1.6z"/><path d="M497.9,815.4 l1.6,1.6 l-1.6,1.6 l-1.6,-1.6z"/><path d="M516,815.4 l1.6,1.6 l-1.6,1.6 l-1.6,-1.6z"/><path d="M524.5,815.4 l1.6,1.6 l-1.6,1.6 l-1.6,-1.6z"/>
<path d="M519.2,803.4 l1.3,1.3 l-1.3,1.3 l-1.3,-1.3z"/><path d="M535.2,803.4 l1.3,1.3 l-1.3,1.3 l-1.3,-1.3z"/>
<path d="M472.3,811.6 l1.6,1.6 l-1.6,1.6 l-1.6,-1.6z"/>
<rect x="470.5" y="772.9" width="4" height="1.6"/><rect x="470.5" y="817" width="4" height="1.6"/>
<rect x="524.6" y="773" width="4.4" height="1.6"/><rect x="524.6" y="791" width="4.4" height="1.6"/>
<circle cx="524.6" cy="781" r="1"/><circle cx="529" cy="781" r="1"/><circle cx="524.6" cy="785.5" r="1"/><circle cx="529" cy="785.5" r="1"/>
</g>
<path d="M501.5,766.3 V827" stroke="#333" stroke-width="0.8"/>
<path d="M501.5,784.4 h2 M499.5,784.4 h-2 M492.5,784.4 h-2 M508.5,784.4 h2" stroke="#333" stroke-width="0.8"/>
<rect x="465.9" y="788.7" width="14.9" height="14.9" stroke="#333" stroke-width="0.9"/>
<path d="M492.5,787.6 H507.5 V805.7 H495 L492.5,803 Z" stroke="#333" stroke-width="0.9"/>
<path d="M521.3,798.3 H530.9 V811.1 H524 L521.3,808.5 Z" stroke="#333" stroke-width="0.9"/>
<path d="M526.8,780 L522.5,777 M526.8,780 L531,777 M526.8,786.5 L522.5,789.5 M526.8,786.5 L531,789.5" stroke="#333" stroke-width="0.8"/>
<path d="M464,785.5 h2 M480,785.5 h2 M464,803 h2 M480,803 h2 M473.3,785 v2 M473.3,803 v2" stroke="#333" stroke-width="0.8"/>
</g>
</g>
</svg>
</body></html>
